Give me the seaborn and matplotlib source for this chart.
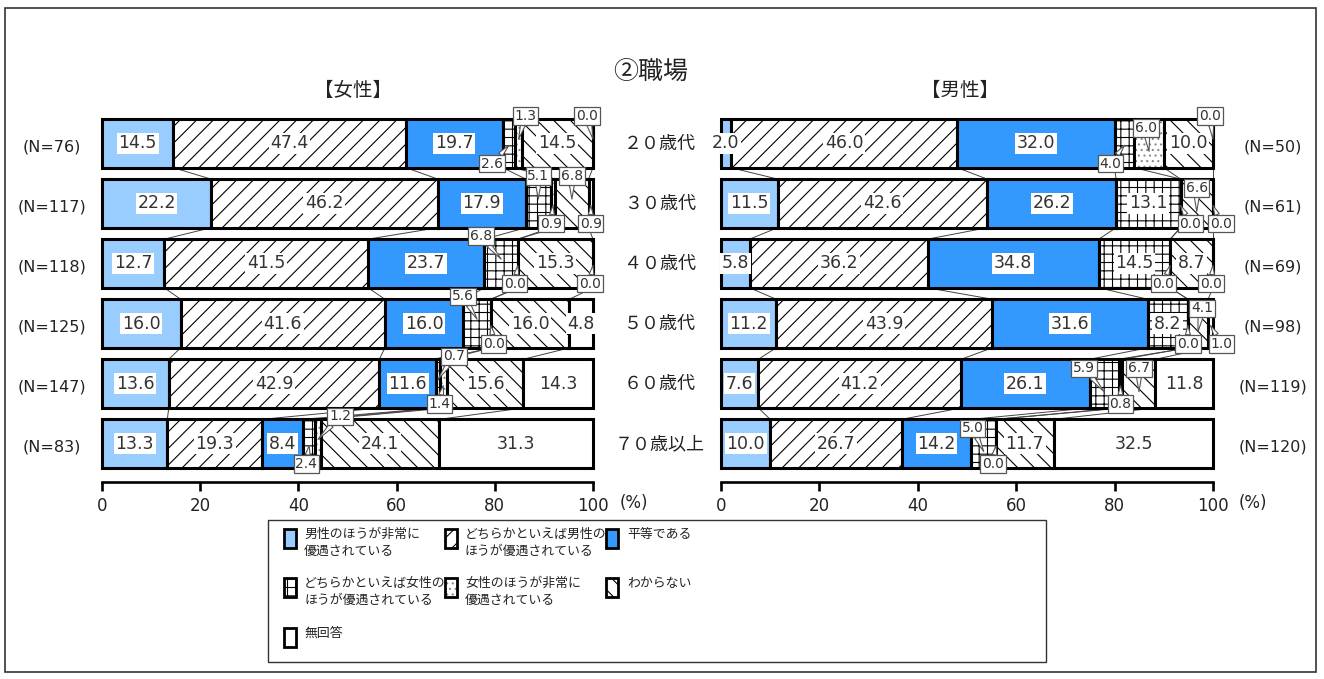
import numpy as np
import pandas as pd
import matplotlib
matplotlib.use("Agg")
import matplotlib.pyplot as plt
from matplotlib.patches import Rectangle
import seaborn as sns

# ---------------------------------------------------------------- data
ages = ["２０歳代", "３０歳代", "４０歳代", "５０歳代", "６０歳代", "７０歳以上"]
categories = [
    "男性のほうが非常に\n優遇されている",
    "どちらかといえば男性の\nほうが優遇されている",
    "平等である",
    "どちらかといえば女性の\nほうが優遇されている",
    "女性のほうが非常に\n優遇されている",
    "わからない",
    "無回答",
]
female_n = [76, 117, 118, 125, 147, 83]
male_n = [50, 61, 69, 98, 119, 120]

female_very_male = [14.5, 22.2, 12.7, 16.0, 13.6, 13.3]
female_some_male = [47.4, 46.2, 41.5, 41.6, 42.9, 19.3]
female_equal = [19.7, 17.9, 23.7, 16.0, 11.6, 8.4]
female_some_female = [2.6, 5.1, 6.8, 5.6, 0.7, 2.4]
female_very_female = [1.3, 0.9, 0.0, 0.0, 1.4, 1.2]
female_unknown = [14.5, 6.8, 15.3, 16.0, 15.6, 24.1]
female_no_answer = [0.0, 0.9, 0.0, 4.8, 14.3, 31.3]

male_very_male = [2.0, 11.5, 5.8, 11.2, 7.6, 10.0]
male_some_male = [46.0, 42.6, 36.2, 43.9, 41.2, 26.7]
male_equal = [32.0, 26.2, 34.8, 31.6, 26.1, 14.2]
male_some_female = [4.0, 13.1, 14.5, 8.2, 5.9, 5.0]
male_very_female = [6.0, 0.0, 0.0, 0.0, 0.8, 0.0]
male_unknown = [10.0, 6.6, 8.7, 4.1, 6.7, 11.7]
male_no_answer = [0.0, 0.0, 0.0, 1.0, 11.8, 32.5]

female_values = [female_very_male, female_some_male, female_equal,
                 female_some_female, female_very_female, female_unknown,
                 female_no_answer]
male_values = [male_very_male, male_some_male, male_equal,
               male_some_female, male_very_female, male_unknown,
               male_no_answer]

# ---------------------------------------------------------------- style
fills = ["#99CCFF", "white", "#3399FF", "white", "white", "white", "white"]
hatches = [None, "//", None, "++", "...", "\\\\", None]
hatch_colors = ["black", "black", "black", "black", "#8a8a8a", "black", "black"]

# callout placement for the small values of each row:
# side u = above the bar, d = below the bar, t = inside near the top; dx in px
female_callouts = [
    [("d", -17), ("u", 7), ("u", -6)],
    [("u", 0), ("d", -2), ("u", 0), ("d", 0)],
    [("u", -20), ("d", -3), ("d", -3)],
    [("u", -14), ("d", 3)],
    [("u", 16), ("d", -4)],
    [("d", -3), ("u", 22)],
]
male_callouts = [
    [("d", -14), ("t", -3), ("u", -3)],
    [("d", 10), ("t", 0), ("d", 8)],
    [("d", -7), ("d", -2)],
    [("d", 0), ("t", 4), ("d", 11)],
    [("t", -20), ("d", 0), ("t", 0)],
    [("t", -11), ("d", -3)],
]

W, H = 1324, 679
BAR_H = 0.81
ROW_PX = 60.07
EDGE_W = 2.2
NUM_FONT = "DejaVu Sans"

sns.set_style("white")
plt.rcParams["font.family"] = ["Noto Sans CJK JP", "DejaVu Sans"]
plt.rcParams["hatch.linewidth"] = 0.8


def fx(x):
    return x / W


def fy(y):
    return 1 - y / H


fig = plt.figure(figsize=(W / 100, H / 100), dpi=100)

AX_TOP, AX_BOT = 119, 482
ylim_top = -BAR_H / 2
ylim_bot = ylim_top + (AX_BOT - AX_TOP) / ROW_PX


def draw_panel(x0, x1, values, callouts):
    ax = fig.add_axes([fx(x0), fy(AX_BOT), (x1 - x0) / W, (AX_BOT - AX_TOP) / H])
    xs = (x1 - x0) / 100.0
    vals = np.array(values, dtype=float)
    cum = np.cumsum(vals, axis=0)
    lefts = cum - vals

    for k in range(len(categories)):
        df = pd.DataFrame({"age": ages, "value": vals[k]})
        common = dict(data=df, x="value", y="age", order=ages, orient="h",
                      width=BAR_H, errorbar=None, left=lefts[k],
                      clip_on=False, ax=ax)
        if hatch_colors[k] != "black":
            # light pattern first, black outline on top
            sns.barplot(**common, color=fills[k], saturation=1,
                        hatch=hatches[k], edgecolor=hatch_colors[k],
                        linewidth=0, zorder=2)
            sns.barplot(**common, color="black", saturation=1, fill=False,
                        linewidth=EDGE_W, zorder=2)
        else:
            sns.barplot(**common, color=fills[k], saturation=1,
                        hatch=hatches[k], edgecolor="black",
                        linewidth=EDGE_W, zorder=2)

    # series lines between neighbouring bars
    for k in range(len(categories) - 1):
        for i in range(len(ages) - 1):
            ax.plot([cum[k, i], cum[k, i + 1]],
                    [i + BAR_H / 2, i + 1 - BAR_H / 2],
                    color="#444444", lw=0.7, zorder=1, clip_on=False)

    for i in range(len(ages)):
        sides = iter(callouts[i])
        for k in range(len(categories)):
            v = vals[k, i]
            cx = lefts[k, i] + v / 2
            txt = f"{v:.1f}"
            inside = k == 0 or v >= 7.5 or (k == len(categories) - 1 and v >= 4.5)
            if inside:
                ax.text(cx, i, txt, ha="center", va="center", fontsize=12.5,
                        family=NUM_FONT, color="#333333", zorder=4,
                        bbox=dict(boxstyle="square,pad=0.1", fc="white", ec="none"))
                continue
            side, dx = next(sides)
            top = i - BAR_H / 2
            bot = i + BAR_H / 2
            if side == "u":
                by, ty = top - 3 / ROW_PX, top + 20 / ROW_PX
            elif side == "d":
                by, ty = bot - 4 / ROW_PX, i + 2 / ROW_PX
            else:
                by, ty = top + 9 / ROW_PX, i + 8 / ROW_PX
            ax.annotate(txt, xy=(cx, ty), xytext=(cx + dx / xs, by),
                        textcoords="data", ha="center", va="center",
                        fontsize=10, family=NUM_FONT, color="#333333",
                        zorder=5, annotation_clip=False,
                        bbox=dict(boxstyle="square,pad=0.12", fc="white",
                                  ec="#555555", lw=0.9),
                        arrowprops=dict(arrowstyle="wedge,tail_width=0.35",
                                        fc="white", ec="#555555", lw=0.8,
                                        shrinkA=0, shrinkB=0))

    ax.set_xlim(0, 100)
    ax.set_ylim(ylim_bot, ylim_top)
    ax.set_yticks([])
    ax.set_xlabel("")
    ax.set_ylabel("")
    ax.set_xticks(range(0, 101, 20))
    ax.set_xticklabels([str(t) for t in range(0, 101, 20)],
                       fontsize=12, family=NUM_FONT, color="#222222")
    for s in ("top", "left", "right"):
        ax.spines[s].set_visible(False)
    ax.spines["bottom"].set_linewidth(1.9)
    ax.spines["bottom"].set_color("black")
    ax.tick_params(axis="x", direction="out", length=6.5, width=1.9,
                   pad=4, color="black", bottom=True)
    ax.patch.set_alpha(0)
    return ax


draw_panel(102, 593, female_values, female_callouts)
draw_panel(721, 1213, male_values, male_callouts)

# row captions and sample sizes
for i, age in enumerate(ages):
    yc = 144 + ROW_PX * i
    fig.text(fx(660), fy(yc), age, ha="center", va="center", fontsize=13,
             color="#222222")
    fig.text(fx(52), fy(yc + 3), f"(N={female_n[i]})", ha="center",
             va="center", fontsize=11.5, family=NUM_FONT, color="#222222")
    fig.text(fx(1273), fy(yc + 3), f"(N={male_n[i]})", ha="center",
             va="center", fontsize=11.5, family=NUM_FONT, color="#222222")

fig.text(fx(634), fy(503), "(%)", ha="center", va="center", fontsize=12,
         family=NUM_FONT, color="#222222")
fig.text(fx(1253), fy(503), "(%)", ha="center", va="center", fontsize=12,
         family=NUM_FONT, color="#222222")

fig.text(fx(651), fy(72), "②職場", ha="center", va="center", fontsize=18,
         color="#222222")
fig.text(fx(353), fy(90), "【女性】", ha="center", va="center", fontsize=14,
         color="#222222")
fig.text(fx(960), fy(90), "【男性】", ha="center", va="center", fontsize=14,
         color="#222222")

# legend
fig.add_artist(Rectangle((fx(268), fy(662)), (1046 - 268) / W, (662 - 520) / H,
                         transform=fig.transFigure, fill=False,
                         ec="#333333", lw=1))
leg_cols = [(284, 304), (445, 465), (606, 627)]
leg_rows = [529, 578, 628]
for k, label in enumerate(categories):
    (px, tx), py = leg_cols[k % 3], leg_rows[k // 3]
    xy = (fx(px), fy(py + 19))
    fig.add_artist(Rectangle(xy, 12 / W, 19 / H, transform=fig.transFigure,
                             facecolor=fills[k], hatch=hatches[k],
                             edgecolor=hatch_colors[k], lw=0))
    fig.add_artist(Rectangle(xy, 12 / W, 19 / H, transform=fig.transFigure,
                             fill=False, edgecolor="black", lw=2.0))
    fig.text(fx(tx), fy(py - 1), label, ha="left", va="top", fontsize=9.3,
             linespacing=1.35, color="#222222")

# outer frame
fig.add_artist(Rectangle((fx(5), fy(672)), (1316 - 5) / W, (672 - 8) / H,
                         transform=fig.transFigure, fill=False,
                         ec="#333333", lw=1.2))

fig.savefig("out.png", dpi=100)
